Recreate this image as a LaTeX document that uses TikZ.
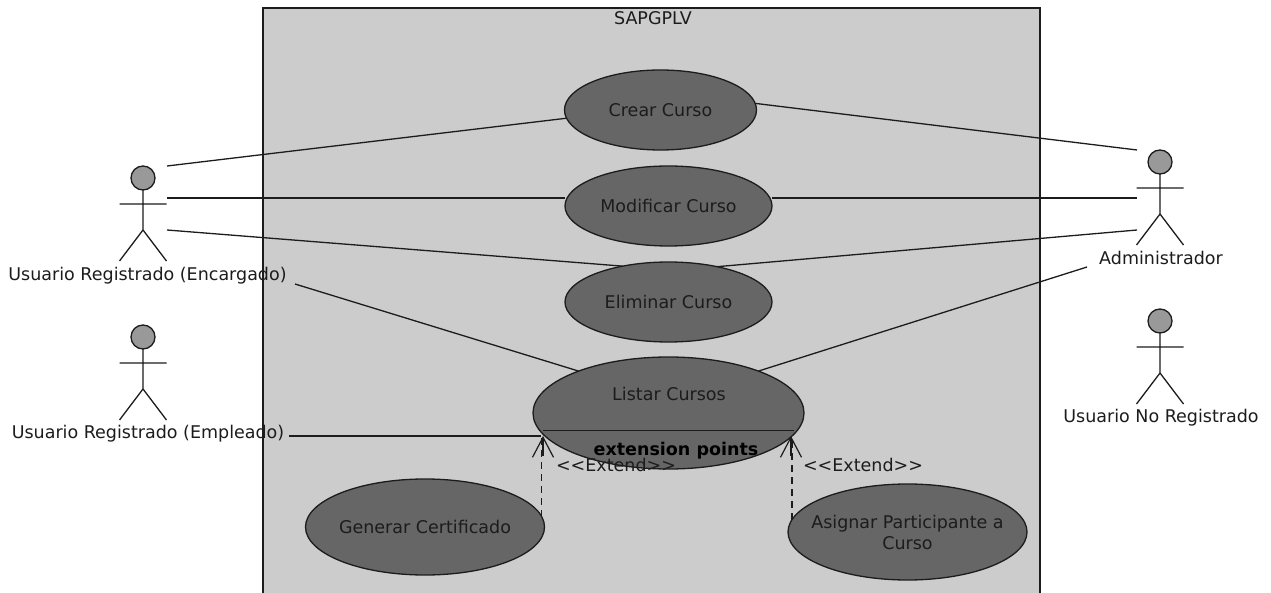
\documentclass[tikz,border=0pt]{standalone}
\usepackage{fontspec}
\setmainfont{DejaVu Sans}
\usetikzlibrary{positioning,calc,shapes.geometric,arrows.meta}

\definecolor{systemgray}{HTML}{CCCCCC}
\definecolor{usecasegray}{HTML}{666666}
\definecolor{headgray}{HTML}{999999}
\definecolor{inkgray}{HTML}{1C1C1C}

\tikzset{
	usecase/.style={ellipse,draw=inkgray,fill=usecasegray,line width=1.3pt,inner ysep=0pt,inner xsep=-20pt,outer sep=0pt,align=center,text=inkgray,font=\fontsize{17.5}{21}\selectfont},
	assoc/.style={draw=inkgray,line width=1.3pt},
	extendline/.style={draw=inkgray,line width=1.3pt,dash pattern=on 7pt off 5pt},
	extendtip/.style={draw=inkgray,line width=1.2pt,{Straight Barb[length=20pt,width=21pt]}-},
	label/.style={text=inkgray,inner sep=0pt,font=\fontsize{17.5}{21}\selectfont},
	pics/actor/.style={code={
		\draw[assoc,fill=headgray] (0,-52) circle (12pt);
		\draw[assoc] (0,-40) -- (0,0) (-23.5,-26) -- (23.5,-26) (-23.5,31) -- (0,0) -- (23.5,31);
	}}
}

\begin{document}
\begin{tikzpicture}[x=1pt,y=-1pt]
	\useasboundingbox (0,0) rectangle (1271,593);

	\draw[assoc,fill=systemgray] (263,8) rectangle (1040,600);
	\node (SYSTEM) [label] at (653,18) {SAPGPLV};

	\node (CREAR)  [usecase,minimum width=192pt,minimum height=80pt]  at (660.5,110) {Crear Curso};
	\node (MODIF)  [usecase,minimum width=207pt,minimum height=80pt]  at (668.5,206) {Modificar Curso};
	\node (ELIM)   [usecase,minimum width=207pt,minimum height=80pt]  at (668.5,302) {Eliminar Curso};
	\node (LISTAR) [usecase,minimum width=271pt,minimum height=112pt] at (668.5,413) {};
	\node (GENER)  [usecase,minimum width=239pt,minimum height=96pt]  at (425,527) {Generar Certificado};
	\node (ASIGN)  [usecase,minimum width=239pt,minimum height=96pt]  at (907.5,532) {Asignar Participante a\\Curso};

	\pic at (143,230) {actor};
	\pic at (143,389) {actor};
	\pic at (1160,214) {actor};
	\pic at (1160,373) {actor};

	\node (ENCARG) [label] at (147.5,276) {Usuario Registrado (Encargado)};
	\node (EMPLEA) [label] at (148,434) {Usuario Registrado (Empleado)};
	\node (ADMIN)  [label] at (1161,258) {Administrador};
	\node (NOREG)  [label] at (1161,418) {Usuario No Registrado};

	\coordinate (ENCA) at (167,166);
	\coordinate (ENCB) at (167,198);
	\coordinate (ENCC) at (167,230);
	\coordinate (ENCD) at (295,284);
	\coordinate (EMPA) at (289,436);
	\coordinate (EMPB) at (541,436);
	\coordinate (ADMA) at (1137,150);
	\coordinate (ADMB) at (1137,198);
	\coordinate (ADMC) at (1137,230);
	\coordinate (ADMD) at (1087,267);
	\coordinate (EXTA) at (543,436);
	\coordinate (EXTB) at (791,436);
	\coordinate (LINEA) at (543,430);
	\coordinate (LINEB) at (794,430);

	\draw[assoc] (ENCA) -- (CREAR.185);
	\draw[assoc] (ENCB) -- (ENCB -| MODIF.west);
	\draw[assoc] (ENCC) -- (ELIM.142);
	\draw[assoc] (ENCD) -- (LISTAR.155);
	\draw[assoc] (EMPA) -- (EMPB);
	\draw[assoc] (ADMA) -- (CREAR.4);
	\draw[assoc] (ADMB) -- (ADMB -| MODIF.east);
	\draw[assoc] (ADMC) -- (ELIM.36);
	\draw[assoc] (ADMD) -- (LISTAR.25);

	\draw[inkgray,line width=1pt] (LINEA) -- (LINEB);
	\node (LISTARTXT) [label] at (669,394) {Listar Cursos};
	\node (EXTPTS)    [label,font=\fontsize{17.5}{21}\selectfont\bfseries,text=black] at (676,450.5) {extension points};

	\draw[extendline] (GENER.5) -- (GENER.5 |- EXTA);
	\draw[extendline] (ASIGN.174) -- (ASIGN.174 |- EXTB);
	\draw[extendtip] (EXTA) -- ++(0,20);
	\draw[extendtip] (EXTB) -- ++(0,20);

	\node (EXTLA) [label] at (616,465) {<{}<Extend>{}>};
	\node (EXTLB) [label] at (863,465) {<{}<Extend>{}>};
\end{tikzpicture}
\end{document}
